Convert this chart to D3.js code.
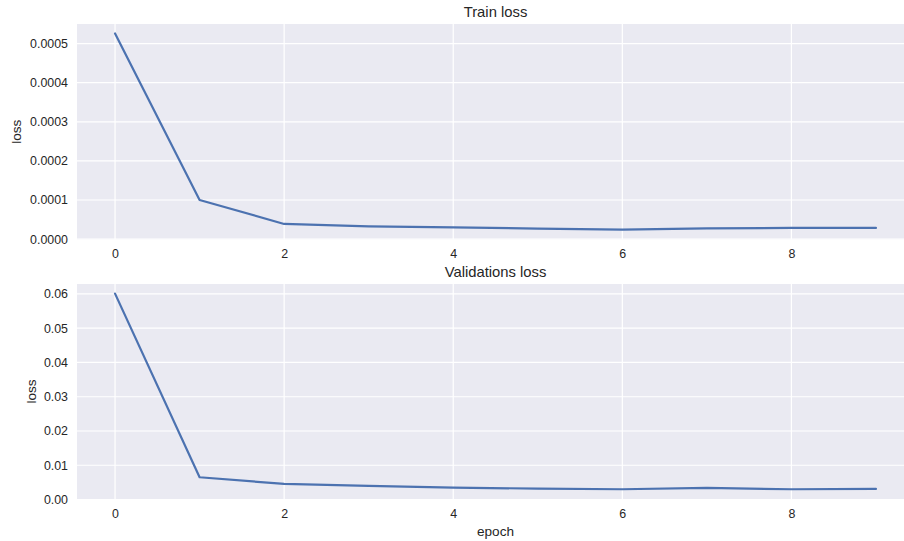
<!DOCTYPE html>
<html lang="en">
<head>
  <meta charset="UTF-8">
  <script type="text/javascript" src="https://cdn.jsdelivr.net/npm/d3@7/dist/d3.min.js"></script>
  <title>loss</title>
  <style type="text/css">
    * {
      margin: 0;
      padding: 0;
    }

    html, body {
      width: 100%;
      height: 100%;
      background-color: #fff;
    }

    text {
      font-family: "Liberation Sans", Arial, sans-serif;
      fill: #262626;
    }
  </style>
</head>

<body>
<div id="box"></div>
</body>
<script type="text/javascript">
  // 数据
  var epochs = [0, 1, 2, 3, 4, 5, 6, 7, 8, 9]
  var trainLoss = [0.000526, 0.000100, 0.0000388, 0.0000327, 0.0000301, 0.0000268, 0.0000242, 0.0000276, 0.0000286, 0.0000286]
  var valLoss = [0.0601, 0.0065, 0.00455, 0.00397, 0.00347, 0.00318, 0.00300, 0.00338, 0.00300, 0.00310]
  var xTicks = [0, 2, 4, 6, 8]
  var trainTicks = [0, 0.0001, 0.0002, 0.0003, 0.0004, 0.0005]
  var valTicks = [0, 0.01, 0.02, 0.03, 0.04, 0.05, 0.06]

  var width = 904
  var height = 541

  var svg = d3.select('#box')
    .append('svg')
    .attr('width', width)
    .attr('height', height)

  // x 比例尺（两个子图共用），右边超出画布被裁掉
  var x = d3.scaleLinear()
    .domain([-0.45, 9.45])
    .range([77, 914])

  function drawPanel(opts) {
    var y = d3.scaleLinear()
      .domain(opts.domain)
      .range([opts.bottom, opts.top])

    var g = svg.append('g')

    // 背景
    g.append('rect')
      .attr('x', x.range()[0])
      .attr('y', opts.top)
      .attr('width', x.range()[1] - x.range()[0])
      .attr('height', opts.bottom - opts.top)
      .attr('fill', '#eaeaf2')

    // 网格线
    g.selectAll('.hgrid')
      .data(opts.ticks)
      .enter()
      .append('line')
      .attr('x1', x.range()[0])
      .attr('x2', x.range()[1])
      .attr('y1', function (d) { return y(d) })
      .attr('y2', function (d) { return y(d) })
      .attr('stroke', '#fff')
      .attr('stroke-width', 1.2)

    g.selectAll('.vgrid')
      .data(xTicks)
      .enter()
      .append('line')
      .attr('x1', function (d) { return x(d) })
      .attr('x2', function (d) { return x(d) })
      .attr('y1', opts.top)
      .attr('y2', opts.bottom)
      .attr('stroke', '#fff')
      .attr('stroke-width', 1.2)

    // 坐标轴
    var xaxis = d3.axisBottom(x)
      .tickValues(xTicks)
      .tickSize(0)
      .tickPadding(10)
      .tickFormat(d3.format('d'))

    var yaxis = d3.axisLeft(y)
      .tickValues(opts.ticks)
      .tickSize(0)
      .tickPadding(9)
      .tickFormat(d3.format(opts.fmt))

    var xg = g.append('g')
      .attr('transform', 'translate(0,' + opts.bottom + ')')
      .call(xaxis)
    var yg = g.append('g')
      .attr('transform', 'translate(' + x.range()[0] + ',0)')
      .call(yaxis)

    ;[xg, yg].forEach(function (a) {
      a.select('.domain').remove()
      a.selectAll('text')
        .style('font-size', '12.4px')
        .style('font-family', '"Liberation Sans", Arial, sans-serif')
        .attr('fill', '#262626')
    })

    // 折线
    var line = d3.line()
      .x(function (d, i) { return x(epochs[i]) })
      .y(function (d) { return y(d) })

    g.append('path')
      .datum(opts.values)
      .attr('d', line)
      .attr('fill', 'none')
      .attr('stroke', '#4c72b0')
      .attr('stroke-width', 2.2)
      .attr('stroke-linejoin', 'round')
      .attr('stroke-linecap', 'round')

    // 标题和轴标签
    g.append('text')
      .attr('x', (x.range()[0] + x.range()[1]) / 2)
      .attr('y', opts.top - 7)
      .attr('text-anchor', 'middle')
      .style('font-size', '14.8px')
      .text(opts.title)

    g.append('text')
      .attr('transform', 'translate(' + opts.labelX + ',' + (opts.top + opts.bottom) / 2 + ') rotate(-90)')
      .attr('text-anchor', 'middle')
      .style('font-size', '13.6px')
      .text('loss')

    return y
  }

  drawPanel({
    values: trainLoss, ticks: trainTicks, domain: [-0.000001, 0.00055],
    top: 24, bottom: 239.5, fmt: '.4f', title: 'Train loss', labelX: 21
  })

  drawPanel({
    values: valLoss, ticks: valTicks, domain: [0.00015, 0.0629],
    top: 284, bottom: 499, fmt: '.2f', title: 'Validations loss', labelX: 36
  })

  svg.append('text')
    .attr('x', (x.range()[0] + x.range()[1]) / 2)
    .attr('y', 536)
    .attr('text-anchor', 'middle')
    .style('font-size', '13.6px')
    .text('epoch')
</script>
</html>
